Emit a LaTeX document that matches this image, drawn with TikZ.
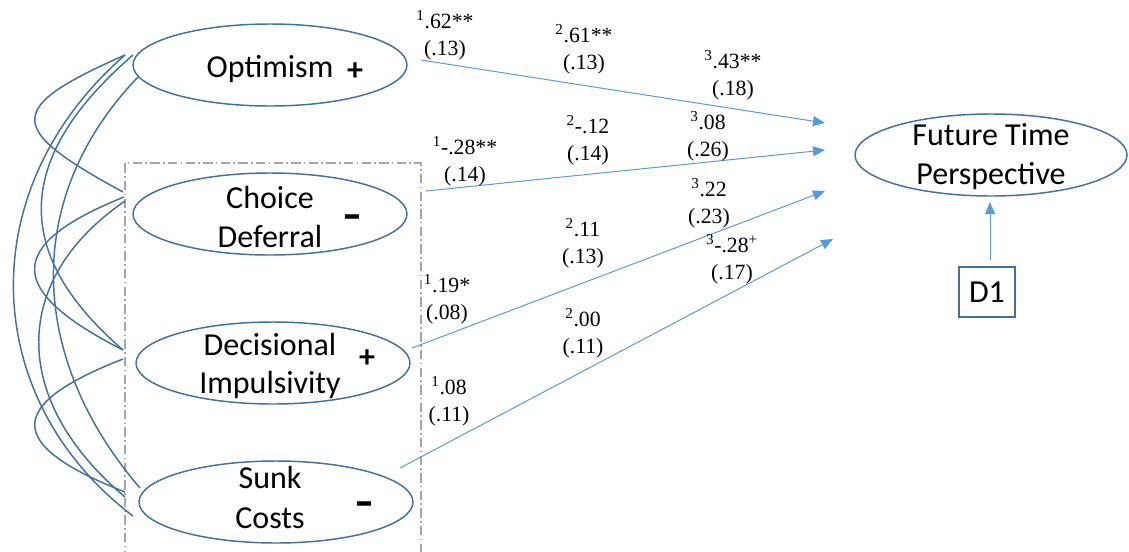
\documentclass[tikz,border=0pt]{standalone}
\usepackage{fontspec}
\setmainfont{Liberation Serif}
\newfontfamily\calfont{Carlito}
\usetikzlibrary{arrows.meta,shapes.geometric}
\definecolor{outl}{HTML}{41719C}
\definecolor{arr}{HTML}{5B9BD5}
\definecolor{dgray}{HTML}{A6A6A6}
\begin{document}
\begin{tikzpicture}[x=0.75pt,y=-0.75pt,
  lat/.style={ellipse,draw=outl,line width=1.1pt,minimum width=205.5pt,minimum height=61.5pt,inner sep=0pt},
  lbl/.style={font=\calfont\fontsize{24}{29}\selectfont,inner sep=0pt,anchor=base},
  sgn/.style={font=\calfont\bfseries\fontsize{24}{29}\selectfont,inner sep=0pt},
  coef/.style={font=\fontsize{16.3}{20}\selectfont,align=center,inner sep=0pt},
  reg/.style={draw=arr,line width=0.75pt,-{Triangle[length=9pt,width=7.5pt]}},
  cor/.style={draw=outl,line width=1.1pt},
  frame/.style={draw=dgray,line width=1pt,dash pattern=on 7pt off 2.5pt on 1.2pt off 2.5pt}
]
\useasboundingbox (0,0) rectangle (1129,551);
\fill[white] (0,0) rectangle (1129,551);

% dashed frame
\draw[frame] (125,560) -- (125,163) -- (421,163) -- (421,560);

% latent variables
\node[lat] (opt) at (270,65) {};
\node[lat] (cd) at (270,214) {};
\node[lat] (di) at (273,363) {};
\node[lat] (sc) at (276,502) {};
\node[lat,minimum width=204pt] (ftp) at (991,155) {};
\node[draw=outl,line width=1.1pt,minimum width=42pt,minimum height=37.5pt,inner sep=0pt,font=\calfont\fontsize{24}{29}\selectfont] (dd) at (987,292) {D1};

% texts
\node[lbl] (optT) at (270,77) {Optimism};
\node[sgn] (optS) at (355,72) {+};
\node[lbl] (cdT1) at (270,208) {Choice};
\node[lbl] (cdT2) at (270,247) {Deferral};
\node[sgn] (cdS) at (352,223) {\scalebox{1.25}[1.6]{–}};
\node[lbl] (diT1) at (270,355) {Decisional};
\node[lbl] (diT2) at (270,393) {Impulsivity};
\node[sgn] (diS) at (367,359) {+};
\node[lbl] (scT1) at (270,488) {Sunk};
\node[lbl] (scT2) at (270,528) {Costs};
\node[sgn] (scS) at (364,510) {\scalebox{1.25}[1.6]{–}};
\node[lbl] (ftpT1) at (991,145) {Future Time};
\node[lbl] (ftpT2) at (991,184) {Perspective};

% correlation end points
\coordinate (o1) at (125,55);
\coordinate (o2) at (133,55);
\coordinate (o3) at (138,77);
\coordinate (c1) at (123,192);
\coordinate (c2) at (124,197);
\coordinate (c3) at (125,201);
\coordinate (i1) at (123,350);
\coordinate (i2) at (123,359);
\coordinate (s1) at (125,492);
\coordinate (s2) at (125,497);
\coordinate (s3) at (133,516);
\coordinate (s4) at (140,488);

\draw[cor] (o1) .. controls (5,108) and (5,128) .. (c1);
\draw[cor] (c2) .. controls (5,245) and (5,290) .. (i1);
\draw[cor] (i2) .. controls (5,405) and (5,445) .. (s1);
\draw[cor] (o2) .. controls (0,170) and (25,265) .. (i1);
\draw[cor] (o3) .. controls (20,200) and (30,360) .. (s4);
\draw[cor] (o1) .. controls (-30,190) and (-20,400) .. (s3);
\draw[cor] (c3) .. controls (10,280) and (10,400) .. (s2);

% regression paths
\coordinate (a1s) at (421,60);
\coordinate (a1e) at (825,123);
\coordinate (a2s) at (426,191);
\coordinate (a2e) at (825,150);
\coordinate (a3s) at (412,348);
\coordinate (a3e) at (825,191);
\coordinate (a4s) at (400,468);
\coordinate (a4e) at (833,239);
\coordinate (ds) at (990,260);
\coordinate (de) at (990,202);
\draw[reg] (a1s) -- (a1e);
\draw[reg] (a2s) -- (a2e);
\draw[reg] (a3s) -- (a3e);
\draw[reg] (a4s) -- (a4e);
\draw[reg] (ds) -- (de);

% coefficients
\node[coef] (k11) at (445,35) {\textsuperscript{1}.62**\\(.13)};
\node[coef] (k12) at (584,49) {\textsuperscript{2}.61**\\(.13)};
\node[coef] (k13) at (733,75) {\textsuperscript{3}.43**\\(.18)};
\node[coef] (k21) at (465,161) {\textsuperscript{1}-.28**\\(.14)};
\node[coef] (k22) at (588,140) {\textsuperscript{2}-.12\\(.14)};
\node[coef] (k23) at (708,136) {\textsuperscript{3}.08\\(.26)};
\node[coef] (k31) at (447,299) {\textsuperscript{1}.19*\\(.08)};
\node[coef] (k32) at (583,243) {\textsuperscript{2}.11\\(.13)};
\node[coef] (k33) at (709,203) {\textsuperscript{3}.22\\(.23)};
\node[coef] (k41) at (449,401) {\textsuperscript{1}.08\\(.11)};
\node[coef] (k42) at (583,333) {\textsuperscript{2}.00\\(.11)};
\node[coef] (k43) at (732,259) {\textsuperscript{3}-.28\textsuperscript{+}\\(.17)};
\end{tikzpicture}
\end{document}
